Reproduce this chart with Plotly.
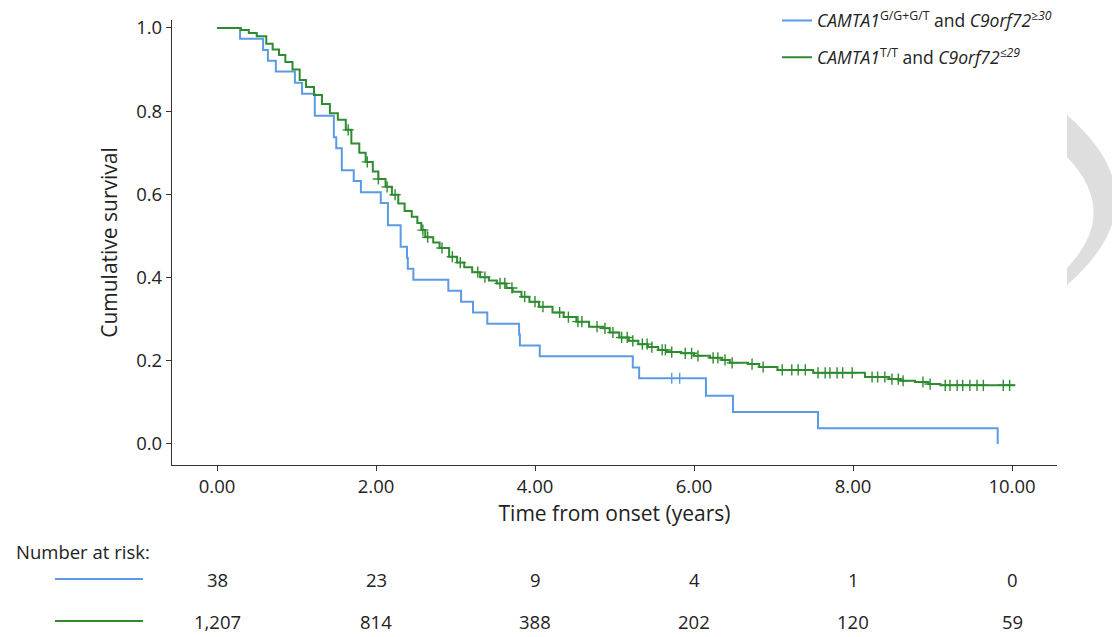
import numpy as np
import plotly.graph_objects as go

# ---------------- data ----------------
blue_t = [0.00, 0.29, 0.58, 0.64, 0.74, 0.98, 1.07, 1.23, 1.47, 1.50, 1.57, 1.72, 1.81,
          2.06, 2.15, 2.31, 2.39, 2.40, 2.47, 2.91, 3.07, 3.22, 3.40, 3.80, 3.81, 4.06,
          5.23, 5.31, 6.15, 6.49, 7.56, 9.82]
blue_s = [1.000, 0.974, 0.947, 0.921, 0.895, 0.868, 0.842, 0.789, 0.737, 0.711, 0.658,
          0.632, 0.605, 0.579, 0.526, 0.474, 0.447, 0.421, 0.395, 0.368, 0.342, 0.316,
          0.289, 0.263, 0.237, 0.211, 0.184, 0.158, 0.116, 0.077, 0.038, 0.000]
blue_cens = [5.72, 5.82]

green_t = [0.00, 0.30, 0.40, 0.50, 0.62, 0.70, 0.78, 0.86, 0.95, 1.04, 1.12, 1.22, 1.32,
           1.42, 1.52, 1.62, 1.69, 1.79, 1.87, 1.96, 2.03, 2.12, 2.20, 2.28, 2.36, 2.45,
           2.52, 2.57, 2.62, 2.72, 2.80, 2.92, 3.02, 3.11, 3.21, 3.31, 3.42, 3.52, 3.64,
           3.72, 3.83, 3.93, 4.05, 4.22, 4.36, 4.52, 4.68, 4.86, 4.94, 5.06, 5.18, 5.30,
           5.42, 5.55, 5.66, 5.84, 6.00, 6.20, 6.35, 6.45, 6.68, 6.82, 7.05, 7.50, 8.15,
           8.45, 8.60, 8.78, 8.95, 9.10, 10.04]
green_s = [1.000, 0.995, 0.988, 0.980, 0.962, 0.948, 0.935, 0.918, 0.900, 0.875, 0.858,
           0.839, 0.817, 0.795, 0.779, 0.755, 0.722, 0.700, 0.678, 0.655, 0.637, 0.618,
           0.599, 0.578, 0.560, 0.546, 0.531, 0.514, 0.497, 0.484, 0.471, 0.450, 0.436,
           0.425, 0.413, 0.401, 0.393, 0.386, 0.375, 0.366, 0.354, 0.342, 0.330, 0.316,
           0.305, 0.294, 0.282, 0.278, 0.268, 0.256, 0.248, 0.240, 0.233, 0.226, 0.221,
           0.218, 0.212, 0.207, 0.202, 0.195, 0.192, 0.185, 0.178, 0.171, 0.161, 0.156,
           0.152, 0.149, 0.144, 0.141, 0.141]
green_cens = [1.65, 1.89, 2.03, 2.14, 2.24, 2.59, 2.65, 2.83, 2.96, 3.06, 3.28, 3.37, 3.56,
              3.62, 3.71, 3.87, 4.00, 4.10, 4.31, 4.42, 4.54, 4.59, 4.78, 4.88, 4.98, 5.09,
              5.16, 5.23, 5.35, 5.41, 5.47, 5.60, 5.64, 5.72, 5.89, 5.97, 6.05, 6.24, 6.30,
              6.39, 6.48, 6.73, 6.87, 7.11, 7.23, 7.31, 7.40, 7.56, 7.65, 7.71, 7.80, 7.87,
              7.99, 8.24, 8.31, 8.40, 8.49, 8.57, 8.63, 8.88, 8.97, 9.16, 9.22, 9.31, 9.38,
              9.47, 9.56, 9.64, 9.89, 9.97]

risk_times = [0, 2, 4, 6, 8, 10]
risk_blue = [38, 23, 9, 4, 1, 0]
risk_green = [1207, 814, 388, 202, 120, 59]

blue_name = "<i>CAMTA1</i><sup>G/G+G/T</sup> and <i>C9orf72</i><sup><i>≥30</i></sup>"
green_name = "<i>CAMTA1</i><sup>T/T</sup> and <i>C9orf72</i><sup><i>≤29</i></sup>"

BLUE = "#5B9BE6"
GREEN = "#2F8B2F"
FONT = "Open Sans"
TXT = "#222"


def surv_at(ts, ss, q):
    ts = np.asarray(ts)
    ss = np.asarray(ss)
    idx = np.searchsorted(ts, np.asarray(q), side="right") - 1
    return ss[idx]


fig = go.Figure()
fig.add_trace(go.Scatter(x=blue_t, y=blue_s, mode="lines", line=dict(color=BLUE, width=2, shape="hv"),
                         name=blue_name, legendgroup="b"))
fig.add_trace(go.Scatter(x=green_t, y=green_s, mode="lines", line=dict(color=GREEN, width=2, shape="hv"),
                         name=green_name, legendgroup="g"))
fig.add_trace(go.Scatter(x=blue_cens, y=surv_at(blue_t, blue_s, blue_cens), mode="markers",
                         marker=dict(symbol="line-ns", size=8, line=dict(color=BLUE, width=1.4)),
                         showlegend=False, hoverinfo="skip"))
fig.add_trace(go.Scatter(x=green_cens, y=surv_at(green_t, green_s, green_cens), mode="markers",
                         marker=dict(symbol="cross-thin", size=8, line=dict(color=GREEN, width=1.4)),
                         showlegend=False, hoverinfo="skip"))

# plot area in pixels: left 172, right 1057, top 20, bottom 465
L, R, T, B = 172, 1057, 20, 465
W, H = 1112, 637


def px(xp):
    return (xp - L) / (R - L)


def py(yp):
    return (B - yp) / (B - T)


annotations = [dict(text="Number at risk:", x=px(14), y=py(551), xref="paper", yref="paper",
                    xanchor="left", yanchor="middle", showarrow=False,
                    font=dict(family=FONT, size=18.5, color=TXT))]
for t, a, b in zip(risk_times, risk_blue, risk_green):
    annotations.append(dict(text=f"{a:,}", x=t, y=py(579), xref="x", yref="paper", showarrow=False,
                            xanchor="center", yanchor="middle", font=dict(family=FONT, size=18.5, color=TXT)))
    annotations.append(dict(text=f"{b:,}", x=t, y=py(621), xref="x", yref="paper", showarrow=False,
                            xanchor="center", yanchor="middle", font=dict(family=FONT, size=18.5, color=TXT)))

shapes = [
    dict(type="line", xref="paper", yref="paper", x0=px(55), x1=px(143), y0=py(579), y1=py(579),
         line=dict(color=BLUE, width=2)),
    dict(type="line", xref="paper", yref="paper", x0=px(55), x1=px(143), y0=py(621), y1=py(621),
         line=dict(color=GREEN, width=2)),
]

# decorative light-grey crescent at the right edge
path = (f"M {px(1067)},{py(115)} Q {px(1165)},{py(200)} {px(1067)},{py(285)} "
        f"L {px(1067)},{py(268)} Q {px(1120)},{py(212)} {px(1067)},{py(157)} Z")
shapes.append(dict(type="path", xref="paper", yref="paper", path=path,
                   fillcolor="#DEDEDE", line=dict(width=0), layer="below"))

fig.update_layout(
    width=W, height=H,
    margin=dict(l=L, r=W - R, t=T, b=H - B, autoexpand=False),
    paper_bgcolor="white", plot_bgcolor="white",
    font=dict(family=FONT, size=18, color=TXT),
    showlegend=True,
    legend=dict(x=1.0, xanchor="right", y=1.039, yanchor="top", bgcolor="rgba(0,0,0,0)",
                font=dict(family=FONT, size=17.5, color=TXT), tracegroupgap=11,
                traceorder="grouped"),
    annotations=annotations,
    shapes=shapes,
)
fig.update_xaxes(range=[-0.566, 10.566], tickvals=risk_times, tickformat=".2f",
                 showline=True, linecolor="#333", linewidth=1.3, ticks="outside", ticklen=5,
                 tickcolor="#333", showgrid=False, zeroline=False,
                 title=dict(text="Time from onset (years)", font=dict(size=21), standoff=8),
                 tickfont=dict(size=18.5))
fig.update_yaxes(range=[-0.0505, 1.019], tickvals=[0, 0.2, 0.4, 0.6, 0.8, 1.0], tickformat=".1f",
                 showline=True, linecolor="#333", linewidth=1.3, ticks="outside", ticklen=5,
                 tickcolor="#333", showgrid=False, zeroline=False,
                 title=dict(text="Cumulative survival", font=dict(size=21), standoff=12),
                 tickfont=dict(size=18.5))

fig.write_html("out.html", config={"displayModeBar": False},
               post_script="document.body.style.margin='0';")
